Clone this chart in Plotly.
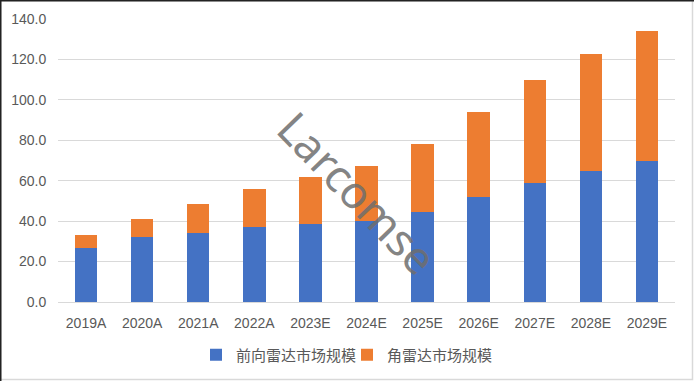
import plotly.graph_objects as go

categories = ["2019A", "2020A", "2021A", "2022A", "2023E", "2024E",
              "2025E", "2026E", "2027E", "2028E", "2029E"]
front_radar = [26.7, 32.2, 34.2, 37.1, 38.8, 40.1, 44.5, 52.0, 58.9, 64.8, 69.8]
total_market = [33.2, 41.1, 48.5, 55.9, 61.9, 67.3, 78.2, 94.0, 109.8, 122.7, 134.1]
corner_radar = [round(t - f, 1) for t, f in zip(total_market, front_radar)]
series_names = ["前向雷达市场规模", "角雷达市场规模"]
tick_vals = [0, 20, 40, 60, 80, 100, 120, 140]

W, H = 694, 381
ML, MR, MT, MB = 58, 19, 19, 79
pw, ph = W - ML - MR, H - MT - MB

fig = go.Figure()
fig.add_trace(go.Bar(x=categories, y=front_radar, name=series_names[0],
                     marker=dict(color="#4472C4", line=dict(width=0))))
fig.add_trace(go.Bar(x=categories, y=corner_radar, name=series_names[1],
                     marker=dict(color="#ED7D31", line=dict(width=0))))

font_family = "Noto Sans CJK SC, Noto Sans, sans-serif"
tick_font = dict(size=14, family="Liberation Sans, Arial", color="#595959")

fig.update_layout(
    barmode="stack",
    bargap=0.6,
    width=W, height=H,
    margin=dict(l=ML, r=MR, t=MT, b=MB, autoexpand=False),
    paper_bgcolor="white",
    plot_bgcolor="white",
    font=dict(family=font_family, color="#595959", size=14),
    showlegend=True,
    legend=dict(orientation="h", xref="container", yref="container",
                x=0.5, xanchor="center", y=0.025, yanchor="bottom",
                font=dict(size=15, color="#595959"),
                itemwidth=30, entrywidth=106, traceorder="normal"),
    xaxis=dict(showgrid=False, showline=True, linecolor="#d9d9d9", linewidth=1,
               automargin=False,
               ticks="outside", ticklen=8, tickcolor="rgba(0,0,0,0)",
               tickfont=tick_font),
    yaxis=dict(range=[0, 140], tickvals=tick_vals, tickformat=".1f",
               automargin=False,
               showgrid=True, gridcolor="#d9d9d9", gridwidth=1,
               zeroline=False, showline=False,
               ticks="outside", ticklen=8, tickcolor="rgba(0,0,0,0)",
               tickfont=tick_font),
)

# watermark
fig.add_annotation(text="Larcomse", xref="paper", yref="paper",
                   x=(358 - ML) / pw, y=1 - (192 - MT) / ph,
                   showarrow=False, textangle=46,
                   font=dict(size=45, color="rgba(110,110,110,0.85)", family="Noto Sans, sans-serif"))

# outer border
x0 = -ML / pw
x1 = 1 + MR / pw
y0 = -MB / ph
y1 = 1 + MT / ph
fig.add_shape(type="rect", xref="paper", yref="paper",
              x0=x0 + 0.5 / pw, x1=x1 - 1.5 / pw, y0=y0 + 1.5 / ph, y1=y1 - 0.5 / ph,
              line=dict(color="#d9d9d9", width=1.5), layer="above")
fig.add_shape(type="line", xref="paper", yref="paper",
              x0=x0 + 0.5 / pw, x1=x1, y0=y1 - 0.5 / ph, y1=y1 - 0.5 / ph,
              line=dict(color="#222222", width=2), layer="above")
fig.add_shape(type="line", xref="paper", yref="paper",
              x0=x0 + 0.5 / pw, x1=x0 + 0.5 / pw, y0=y0, y1=y1,
              line=dict(color="#222222", width=2), layer="above")

fig.write_html("out.html", config={"displayModeBar": False},
               post_script="document.body.style.margin='0';document.body.style.overflow='hidden';")
